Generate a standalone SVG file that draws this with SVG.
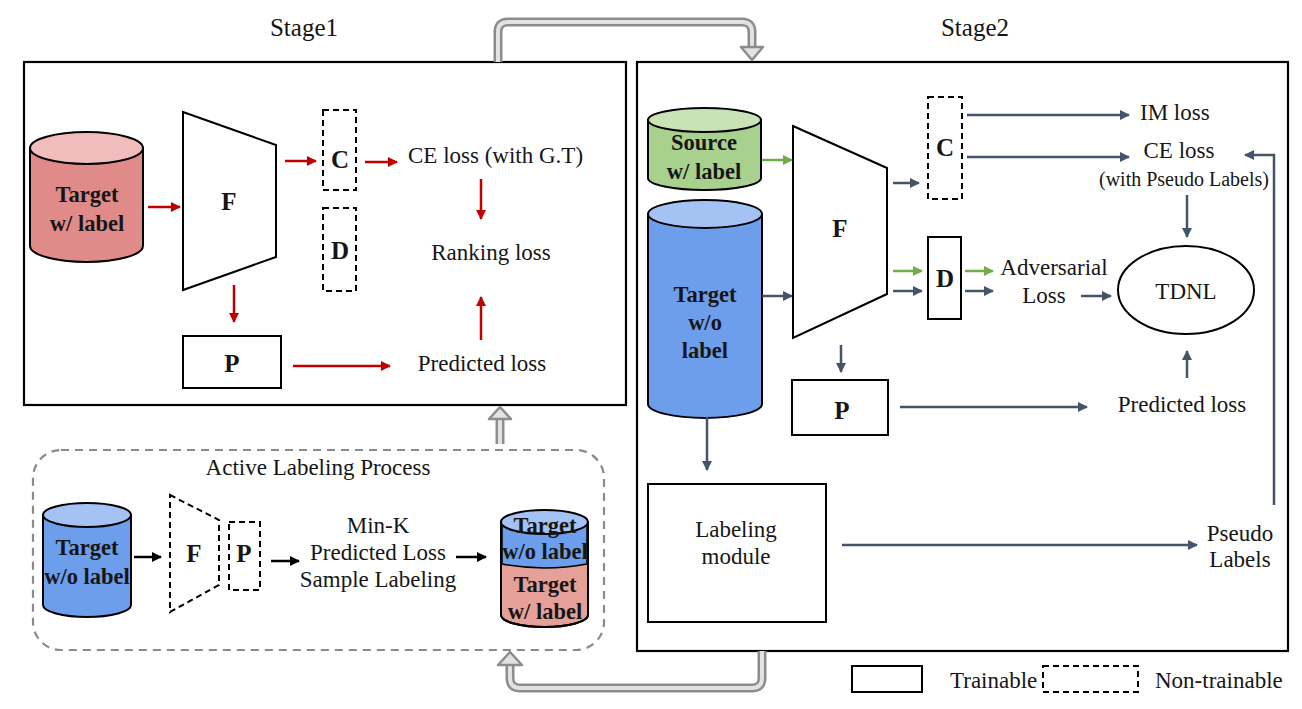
<svg xmlns="http://www.w3.org/2000/svg" width="1302" height="709" viewBox="0 0 1302 709" font-family="'Liberation Serif', 'Times New Roman', 'DejaVu Serif', serif">
<style>
text{font-family:'Liberation Serif','Times New Roman','DejaVu Serif',serif;fill:#161616}
.b{font-weight:bold;font-size:22.5px}
.L{font-weight:bold;font-size:25px}
.t{font-size:23px}
.s{font-size:20px}
.h{font-size:25px}
.frame{fill:none;stroke:#000;stroke-width:2.2}
.box{fill:#fff;stroke:#000;stroke-width:2}
.dash{fill:#fff;stroke:#000;stroke-width:2;stroke-dasharray:6 4}
.cyl{stroke:#000;stroke-width:2}
.r{stroke:#c00000;stroke-width:2.5;fill:none;marker-end:url(#mr)}
.g{stroke:#70ad47;stroke-width:2.5;fill:none;marker-end:url(#mg)}
.n{stroke:#44546a;stroke-width:2.5;fill:none;marker-end:url(#mn)}
.k{stroke:#000;stroke-width:2.5;fill:none;marker-end:url(#mk)}
.po{fill:none;stroke:#8c8c8c;stroke-width:9}
.pi{fill:none;stroke:#e2e2e2;stroke-width:4}
.ph{fill:#e2e2e2;stroke:#8c8c8c;stroke-width:2.5;stroke-linejoin:round}
</style>
<defs>
<marker id="mr" markerWidth="10" markerHeight="10" refX="9" refY="5" orient="auto" markerUnits="userSpaceOnUse"><path d="M0,0 L10,5 L0,10 Z" fill="#c00000"/></marker>
<marker id="mg" markerWidth="10" markerHeight="10" refX="9" refY="5" orient="auto" markerUnits="userSpaceOnUse"><path d="M0,0 L10,5 L0,10 Z" fill="#70ad47"/></marker>
<marker id="mn" markerWidth="10" markerHeight="10" refX="9" refY="5" orient="auto" markerUnits="userSpaceOnUse"><path d="M0,0 L10,5 L0,10 Z" fill="#44546a"/></marker>
<marker id="mk" markerWidth="10" markerHeight="10" refX="9" refY="5" orient="auto" markerUnits="userSpaceOnUse"><path d="M0,0 L10,5 L0,10 Z" fill="#000"/></marker>
</defs>

<!-- titles & frames -->
<text x="304" y="36" text-anchor="middle" class="h">Stage1</text>
<text x="975" y="36" text-anchor="middle" class="h">Stage2</text>
<rect id="stage1" class="frame" x="24" y="62" width="602" height="343"/>
<rect id="stage2" class="frame" x="637" y="62" width="651" height="589"/>
<rect id="alp" x="33" y="450" width="571" height="200" rx="28" fill="none" stroke="#8a8a8a" stroke-width="2.2" stroke-dasharray="8 6"/>
<text x="318" y="475" text-anchor="middle" class="t">Active Labeling Process</text>

<!-- pipes -->
<g id="pipes">
<path class="po" d="M498 62 V32 Q498 22 508 22 H742 Q752 22 752 32 V48"/>
<path class="pi" d="M498 62 V32 Q498 22 508 22 H742 Q752 22 752 32 V48"/>
<polygon class="ph" points="741,47 763,47 752,60"/>
<path class="po" d="M762 651 V678 Q762 688 752 688 H520 Q510 688 510 678 V664"/>
<path class="pi" d="M762 651 V678 Q762 688 752 688 H520 Q510 688 510 678 V664"/>
<polygon class="ph" points="498,665 522,665 510,652"/>
<path class="po" d="M500 444 V418"/>
<path class="pi" d="M500 444 V418"/>
<polygon class="ph" points="489,419 511,419 500,407"/>
</g>

<!-- Stage1 nodes -->
<g id="s1-target">
<path class="cyl" fill="#e08a8a" d="M30 148 V246 A56.5 16 0 0 0 143 246 V148 Z"/>
<ellipse class="cyl" cx="86.5" cy="148" rx="56.5" ry="16" fill="#f0bcbc"/>
<text x="87" y="202" text-anchor="middle" class="b">Target</text>
<text x="87" y="231" text-anchor="middle" class="b">w/ label</text>
</g>
<g id="s1-F">
<polygon class="box" points="183,112 276,145 276,257 183,290"/>
<text x="229" y="210" text-anchor="middle" class="L">F</text>
</g>
<g id="s1-C"><rect class="dash" x="323" y="110" width="33" height="80"/><text x="340" y="168" text-anchor="middle" class="L">C</text></g>
<g id="s1-D"><rect class="dash" x="323" y="208" width="33" height="83"/><text x="340" y="259" text-anchor="middle" class="L">D</text></g>
<g id="s1-P"><rect class="box" x="183" y="336" width="98" height="52"/><text x="232" y="372" text-anchor="middle" class="L">P</text></g>
<g id="s1-ce"><text x="408" y="163" class="t">CE loss (with G.T)</text></g>
<g id="s1-rank"><text x="491" y="260" text-anchor="middle" class="t">Ranking loss</text></g>
<g id="s1-pred"><text x="482" y="371" text-anchor="middle" class="t">Predicted loss</text></g>

<!-- Stage2 nodes -->
<g id="s2-source">
<path class="cyl" fill="#a9d18e" d="M648 120 V178 A56.5 12 0 0 0 761 178 V120 Z"/>
<ellipse class="cyl" cx="704.5" cy="120" rx="56.5" ry="12" fill="#c9e3b6"/>
<text x="704" y="150" text-anchor="middle" class="b">Source</text>
<text x="704" y="179" text-anchor="middle" class="b">w/ label</text>
</g>
<g id="s2-target">
<path class="cyl" fill="#6d9eeb" d="M648 214 V404 A57 14 0 0 0 762 404 V214 Z"/>
<ellipse class="cyl" cx="705" cy="214" rx="57" ry="14" fill="#a4c2f4"/>
<text x="705" y="302" text-anchor="middle" class="b">Target</text>
<text x="705" y="330" text-anchor="middle" class="b">w/o</text>
<text x="705" y="358" text-anchor="middle" class="b">label</text>
</g>
<g id="s2-F">
<polygon class="box" points="793,126 887,168 887,294 793,338"/>
<text x="840" y="237" text-anchor="middle" class="L">F</text>
</g>
<g id="s2-C"><rect class="dash" x="928" y="97" width="34" height="102"/><text x="945" y="156" text-anchor="middle" class="L">C</text></g>
<g id="s2-D"><rect class="box" x="928" y="237" width="33" height="82"/><text x="945" y="287" text-anchor="middle" class="L">D</text></g>
<g id="s2-P"><rect class="box" x="792" y="380" width="96" height="55"/><text x="842" y="419" text-anchor="middle" class="L">P</text></g>
<g id="s2-im"><text x="1140" y="120" class="t">IM loss</text></g>
<g id="s2-ce"><text x="1179" y="158" text-anchor="middle" class="t">CE loss</text><text x="1184" y="186" text-anchor="middle" class="s">(with Pseudo Labels)</text></g>
<g id="s2-adv"><text x="1054" y="275" text-anchor="middle" class="t">Adversarial</text><text x="1044" y="303" text-anchor="middle" class="t">Loss</text></g>
<g id="s2-tdnl"><ellipse cx="1186" cy="290" rx="68" ry="44" fill="#fff" stroke="#000" stroke-width="2"/><text x="1186" y="299" text-anchor="middle" class="t">TDNL</text></g>
<g id="s2-pred"><text x="1182" y="412" text-anchor="middle" class="t">Predicted loss</text></g>
<g id="s2-labeling"><rect class="box" x="648" y="484" width="178" height="138"/><text x="736" y="537" text-anchor="middle" class="t">Labeling</text><text x="736" y="564" text-anchor="middle" class="t">module</text></g>
<g id="s2-pseudo"><text x="1240" y="541" text-anchor="middle" class="t">Pseudo</text><text x="1240" y="567" text-anchor="middle" class="t">Labels</text></g>

<!-- ALP nodes -->
<g id="alp-target">
<path class="cyl" fill="#6d9eeb" d="M43 515 V605 A44 12 0 0 0 131 605 V515 Z"/>
<ellipse class="cyl" cx="87" cy="515" rx="44" ry="12" fill="#a4c2f4"/>
<text x="87" y="555" text-anchor="middle" class="b">Target</text>
<text x="87" y="584" text-anchor="middle" class="b">w/o label</text>
</g>
<g id="alp-F"><polygon class="dash" points="170,495 219,520 219,585 170,612"/><text x="194" y="562" text-anchor="middle" class="L">F</text></g>
<g id="alp-P"><rect class="dash" x="229" y="522" width="31" height="68"/><text x="244" y="562" text-anchor="middle" class="L">P</text></g>
<g id="alp-text"><text x="378" y="533" text-anchor="middle" class="t">Min-K</text><text x="378" y="560" text-anchor="middle" class="t">Predicted Loss</text><text x="378" y="587" text-anchor="middle" class="t">Sample Labeling</text></g>
<g id="alp-result">
<path class="cyl" fill="#e6a09a" d="M501 522 V615 A43.5 12 0 0 0 588 615 V522 Z"/>
<path fill="#6d9eeb" stroke="#000" stroke-width="1.5" d="M502 522 V564 Q544.5 572 587 564 V522 Z"/>
<ellipse class="cyl" cx="544.5" cy="522" rx="43.5" ry="12" fill="#a4c2f4"/>
<path class="cyl" fill="none" d="M501 522 V615 A43.5 12 0 0 0 588 615 V522"/>
<text x="545" y="533" text-anchor="middle" class="b">Target</text>
<text x="545" y="559" text-anchor="middle" class="b">w/o label</text>
<text x="545" y="592" text-anchor="middle" class="b">Target</text>
<text x="545" y="619" text-anchor="middle" class="b">w/ label</text>
</g>

<!-- legend -->
<g id="legend">
<rect class="box" x="852" y="666" width="70" height="26"/>
<text x="950" y="688" class="t">Trainable</text>
<rect class="dash" x="1043" y="666" width="95" height="26"/>
<text x="1155" y="688" class="t">Non-trainable</text>
</g>

<!-- connectors -->
<g id="connectors">
<line class="r" x1="148" y1="207" x2="180" y2="207"/>
<line class="r" x1="285" y1="161" x2="316" y2="161"/>
<line class="r" x1="365" y1="162" x2="397" y2="162"/>
<line class="r" x1="481" y1="179" x2="481" y2="219"/>
<line class="r" x1="481" y1="340" x2="481" y2="297"/>
<line class="r" x1="234" y1="285" x2="234" y2="322"/>
<line class="r" x1="293" y1="366" x2="390" y2="366"/>

<line class="g" x1="762" y1="160" x2="792" y2="160"/>
<line class="n" x1="762" y1="296" x2="792" y2="296"/>
<line class="n" x1="893" y1="183" x2="919" y2="183"/>
<line class="n" x1="967" y1="115" x2="1129" y2="115"/>
<line class="n" x1="967" y1="157" x2="1129" y2="157"/>
<line class="n" x1="1187" y1="195" x2="1187" y2="237"/>
<line class="g" x1="893" y1="271" x2="922" y2="271"/>
<line class="n" x1="893" y1="291" x2="922" y2="291"/>
<line class="g" x1="965" y1="271" x2="993" y2="271"/>
<line class="n" x1="965" y1="291" x2="993" y2="291"/>
<line class="n" x1="1081" y1="296" x2="1111" y2="296"/>
<line class="n" x1="1187" y1="378" x2="1187" y2="351"/>
<line class="n" x1="841" y1="345" x2="841" y2="372"/>
<line class="n" x1="900" y1="407" x2="1087" y2="407"/>
<line class="n" x1="707" y1="417" x2="707" y2="470"/>
<line class="n" x1="842" y1="545" x2="1197" y2="545"/>
<path class="n" d="M1274 505 V155 H1245"/>

<line class="k" x1="134" y1="557" x2="161" y2="557"/>
<line class="k" x1="271" y1="561" x2="299" y2="561"/>
<line class="k" x1="456" y1="557" x2="486" y2="557"/>
</g>
</svg>
